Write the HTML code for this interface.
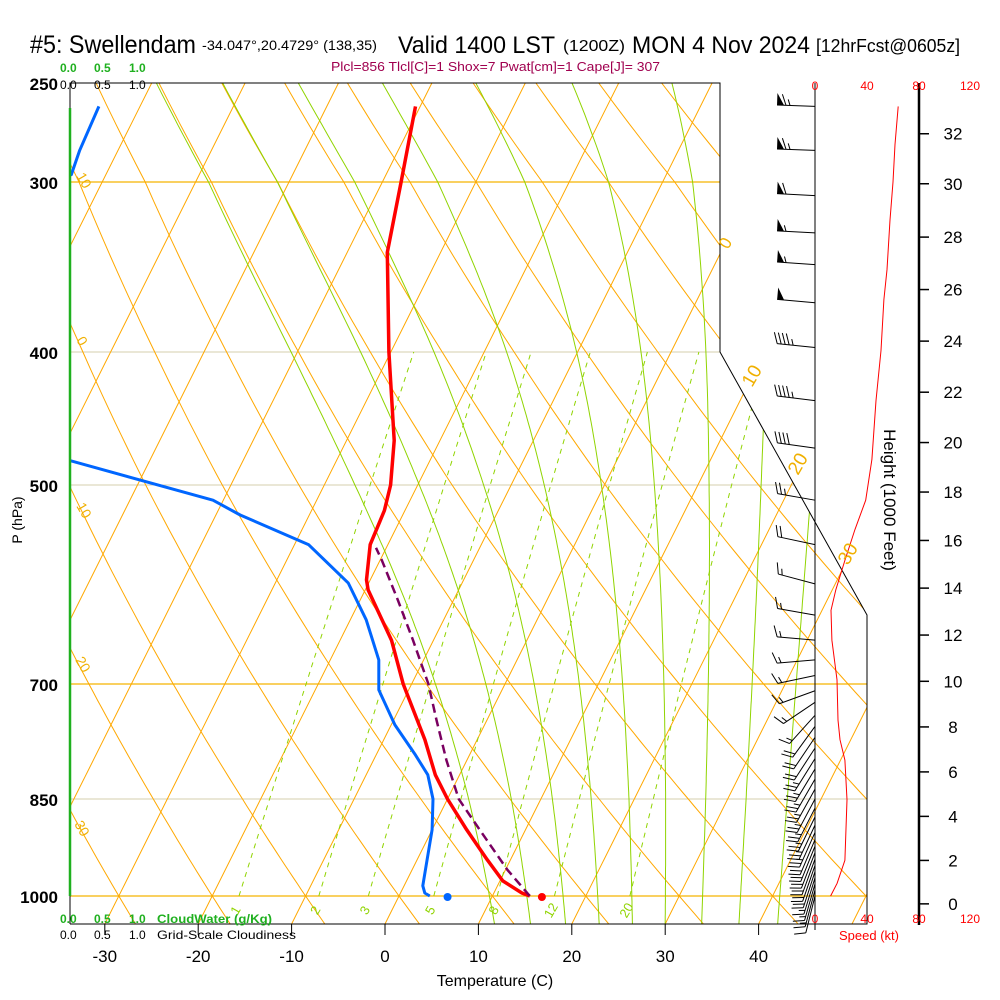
<!DOCTYPE html>
<html><head><meta charset="utf-8">
<style>
html,body{margin:0;padding:0;background:#fff;}
svg{display:block;font-family:"Liberation Sans",Arial,sans-serif;}
</style></head>
<body>
<svg id="chart" width="1000" height="1000" viewBox="0 0 1000 1000" xmlns="http://www.w3.org/2000/svg">
<rect x="0" y="0" width="1000" height="1000" fill="#fff"/>
<defs>
<clipPath id="plotclip"><polygon points="70,83 720,83 720,352 867,615 867,924 70,924"/></clipPath>
</defs>
<g id="grid" clip-path="url(#plotclip)"></g>
<g id="series" clip-path="url(#plotclip)"></g>
<g id="frame">
<polyline points="70,924 70,83 720,83 720,352 867,615 867,924 70,924" fill="none" stroke="#000" stroke-width="1"/>
<line x1="70" y1="108" x2="70" y2="896" stroke="#1fb01f" stroke-width="2.5"/>
<line x1="815" y1="83" x2="815" y2="930" stroke="#000" stroke-width="1"/>
<line x1="919" y1="83" x2="919" y2="925" stroke="#000" stroke-width="2.5"/>
</g>
<g id="winds"></g>
<g id="labels">
<text x="30" y="53" font-size="25" textLength="166" lengthAdjust="spacingAndGlyphs">#5: Swellendam</text>
<text x="202" y="50" font-size="14" textLength="175" lengthAdjust="spacingAndGlyphs">-34.047°,20.4729° (138,35)</text>
<text x="398" y="53" font-size="24" textLength="157" lengthAdjust="spacingAndGlyphs">Valid 1400 LST</text>
<text x="563" y="51" font-size="16" textLength="62" lengthAdjust="spacingAndGlyphs">(1200Z)</text>
<text x="632" y="53" font-size="24" textLength="178" lengthAdjust="spacingAndGlyphs">MON 4 Nov 2024</text>
<text x="816" y="52" font-size="18" textLength="144" lengthAdjust="spacingAndGlyphs">[12hrFcst@0605z]</text>
<text x="331" y="71" font-size="13" fill="#a0004f" textLength="329" lengthAdjust="spacingAndGlyphs">Plcl=856 Tlcl[C]=1 Shox=7 Pwat[cm]=1 Cape[J]= 307</text>
<g font-size="12" font-weight="bold" fill="#1fb01f"><text x="60" y="72">0.0</text><text x="94" y="72">0.5</text><text x="129" y="72">1.0</text></g>
<g font-size="12" fill="#000"><text x="60" y="89">0.0</text><text x="94" y="89">0.5</text><text x="129" y="89">1.0</text></g>
<g font-size="12" font-weight="bold" fill="#1fb01f"><text x="60" y="923">0.0</text><text x="94" y="923">0.5</text><text x="129" y="923">1.0</text><text x="157" y="923" textLength="115" lengthAdjust="spacingAndGlyphs">CloudWater (g/Kg)</text></g>
<g font-size="12" fill="#000"><text x="60" y="939">0.0</text><text x="94" y="939">0.5</text><text x="129" y="939">1.0</text><text x="157" y="939" textLength="139" lengthAdjust="spacingAndGlyphs">Grid-Scale Cloudiness</text></g>
<text x="495" y="986" font-size="16" text-anchor="middle">Temperature (C)</text>
<text transform="translate(22,520) rotate(-90)" font-size="14" text-anchor="middle">P (hPa)</text>
<text transform="translate(884,500) rotate(90)" font-size="17" text-anchor="middle">Height (1000 Feet)</text>
<g font-size="12" fill="#f00" text-anchor="middle"><text x="815" y="90">0</text><text x="867" y="90">40</text><text x="919" y="90">80</text><text x="970" y="90">120</text></g>
<g font-size="12" fill="#f00" text-anchor="middle"><text x="815" y="923">0</text><text x="867" y="923">40</text><text x="919" y="923">80</text><text x="970" y="923">120</text></g>
<text x="869" y="940" font-size="13" fill="#f00" text-anchor="middle">Speed (kt)</text>
<g font-size="14" fill="#f0b000">
<text transform="translate(76,176) rotate(60)">10</text>
<text transform="translate(76,340) rotate(60)">0</text>
<text transform="translate(76,506) rotate(60)">10</text>
<text transform="translate(75,660) rotate(60)">20</text>
<text transform="translate(74,824) rotate(60)">30</text>
<text transform="translate(728,250) rotate(-60)" font-size="17">0</text>
<text transform="translate(752,388) rotate(-60)" font-size="19">10</text>
<text transform="translate(798,476) rotate(-60)" font-size="19">20</text>
<text transform="translate(848,566) rotate(-60)" font-size="19">30</text>
</g>
</g>
<g id="axes"></g>
</svg>
<script>
// ---- data ----
const pressureTicks = [250, 300, 400, 500, 700, 850, 1000];
const tempTicks = [-30, -20, -10, 0, 10, 20, 30, 40];
const heightTicks = [0, 2, 4, 6, 8, 10, 12, 14, 16, 18, 20, 22, 24, 26, 28, 30, 32];
const mixRatios = [1, 2, 3, 5, 8, 12, 20];
const moistTopT = [-69.5, -62.4, -54.3, -45.3, -35.3, -25, -14.3, -5, 3];
const tempP = [261, 300, 338, 400, 464, 500, 522, 553, 587, 597, 650, 700, 769, 816, 850, 895, 941, 975, 995, 1000];
const tempT = [-40.5, -38.0, -35.7, -30.2, -24.9, -22.9, -22.2, -21.9, -20.4, -19.7, -14.5, -10.9, -5.6, -2.6, 0.0, 3.7, 7.5, 10.3, 13.0, 14.0];
const dewP = [261, 283, 296, 310, 470, 480, 513, 526, 553, 590, 628, 672, 707, 750, 789, 816, 850, 895, 941, 983, 995, 1000];
const dewT = [-74.4, -74.1, -73.7, -85, -70, -58.5, -41.1, -37.4, -28.5, -22.2, -18.3, -14.8, -13.2, -9.6, -5.8, -3.4, -1.55, 0.0, 1.07, 2.0, 2.6, 3.3];
const parcelP = [1000, 957, 895, 850, 796, 744, 700, 650, 607, 568, 556];
const parcelT = [14, 10.2, 5.1, 1.2, -2.2, -5.4, -8.2, -12.2, -16.0, -19.8, -21.1];
const sfcTemp = 15.3;
const sfcDew = 5.2;
const windP = [261, 280, 300, 320, 348, 366, 399, 434, 479, 513, 539, 568, 597, 618, 650, 695, 744, 769, 796, 851, 942, 979, 1000];
const windSpeed = [64, 61.5, 60, 57.7, 55.4, 53, 50.8, 46.9, 43.8, 39, 30.8, 23, 16, 12.3, 13, 16.9, 17.7, 19.2, 23, 24.6, 23, 17, 12];
const barbP = [261,283,307,327,345,368,397,434,470,513,553,591,623,650,672,690,708,722,738,752,766,780,794,808,822,836,850,863,876,888,899,910,920,930,940,950,960,970,980,990,1000];
const barbSpeed = [65,65,60,55,55,50,45,45,42,25,22,17,14,13,14,15,15,16,17,18,20,22,23,23,24,24,24,24,23,23,23,22,22,21,20,19,18,17,16,14,12];
const barbDir = [272,272,273,273,274,275,276,277,278,280,282,285,280,275,265,258,250,236,222,216,214,213,212,211,210,209,208,207,206,205,204,203,202,201,200,199,198,197,196,195,194];

// ---- axis functions ----
const NS = 'http://www.w3.org/2000/svg';
const Y_CAL = [83, 182, 352, 485, 684, 799, 896];
function yP(p) {
  const lp = Math.log(p);
  let i = 0;
  if (p <= pressureTicks[0]) i = 0;
  else if (p >= pressureTicks[pressureTicks.length - 1]) i = pressureTicks.length - 2;
  else { while (p > pressureTicks[i + 1]) i++; }
  const l0 = Math.log(pressureTicks[i]), l1 = Math.log(pressureTicks[i + 1]);
  return Y_CAL[i] + (lp - l0) / (l1 - l0) * (Y_CAL[i + 1] - Y_CAL[i]);
}
function xT(T, p) { return 385 + 9.34 * T + 0.5 * (924 - yP(p)); }
function xTy(T, y) { return 385 + 9.34 * T + 0.5 * (924 - y); }
function xSpeed(s) { return 815 + 1.3 * s; }
function pFromHeight(hkft) { return 1013.25 * Math.pow(1 - 6.8756e-6 * hkft * 1000, 5.2559); }
function mk(tag, attrs, parent) {
  const el = document.createElementNS(NS, tag);
  for (const k in attrs) el.setAttribute(k, attrs[k]);
  parent.appendChild(el);
  return el;
}
function pathFrom(ps, ts) {
  return ps.map((p, i) => (i ? 'L' : 'M') + xT(ts[i], p).toFixed(1) + ',' + yP(p).toFixed(1)).join(' ');
}
const grid = document.getElementById('grid');
const series = document.getElementById('series');
const axes = document.getElementById('axes');
const winds = document.getElementById('winds');

// isobars
pressureTicks.forEach(p => {
  const bright = (p === 300 || p === 700 || p === 1000);
  const el = mk('line', {x1: 70, x2: 870, y1: yP(p), y2: yP(p), stroke: bright ? '#f5b400' : '#d6cfae', 'stroke-width': bright ? 1.3 : 1}, grid);
  
  
});
// isotherms
for (let T = -120; T <= 50; T += 10) {
  const el = mk('line', {x1: xTy(T, 924), y1: 924, x2: xTy(T, 83), y2: 83, stroke: '#ffa800', 'stroke-width': 1}, grid);
  
  
}
// dry adiabats
for (let th = -40; th <= 200; th += 10) {
  let d = '';
  for (let p = 1100; p >= 240; p -= 10) {
    const T = (th + 273.15) * Math.pow(p / 1000, 0.286) - 273.15;
    d += (d ? 'L' : 'M') + xT(T, p).toFixed(1) + ',' + yP(p).toFixed(1);
  }
  const el = mk('path', {d: d, fill: 'none', stroke: '#ffa800', 'stroke-width': 1}, grid);
  
  
}
// moist adiabats (integrated downward from their 250 hPa temperature)
function rsat(T, p) { const es = 6.112 * Math.exp(17.67 * T / (T + 243.5)); return 0.622 * es / (p - es); }
function dTdp(T, p) {
  const Tk = T + 273.15, r = rsat(T, p), Rd = 287, cp = 1005, Lv = 2.5e6;
  return (Rd * Tk + Lv * r) / (p * (cp + Lv * Lv * r * 0.622 / (Rd * Tk * Tk)));
}
moistTopT.forEach(Ttop => {
  let T = Ttop, p = 250, pts = [];
  while (p <= 1100) {
    pts.push(xT(T, p).toFixed(1) + ',' + yP(p).toFixed(1));
    T += dTdp(T, p) * 5; p += 5;
  }
  const el = mk('polyline', {points: pts.join(' '), fill: 'none', stroke: '#90d400', 'stroke-width': 1}, grid);
  
  
});
// mixing ratio lines
function tdFromW(w, p) { const e = w * p / (622 + w); const l = Math.log(e / 6.112); return 243.5 * l / (17.67 - l); }
mixRatios.forEach(w => {
  let d = '';
  for (let p = 1000; p >= 400; p -= 10) d += (d ? 'L' : 'M') + xT(tdFromW(w, p), p).toFixed(1) + ',' + yP(p).toFixed(1);
  const el = mk('path', {d: d, fill: 'none', stroke: '#90d400', 'stroke-width': 1, 'stroke-dasharray': '5,5'}, grid);
  
  
  const lx = xT(tdFromW(w, 1000), 1000) - 4;
  const t = mk('text', {x: lx, y: 915, 'font-size': 13, fill: '#90d400', 'text-anchor': 'middle', transform: 'rotate(-60 ' + lx + ' 910)'}, axes);
  
  
  t.textContent = w;
});

// series
const tLine = mk('path', {d: pathFrom(tempP, tempT), fill: 'none', stroke: '#ff0000', 'stroke-width': 3.5, 'stroke-linejoin': 'round'}, series);


const dLine = mk('path', {d: pathFrom(dewP, dewT), fill: 'none', stroke: '#0066ff', 'stroke-width': 3, 'stroke-linejoin': 'round'}, series);


const pLine = mk('path', {d: pathFrom(parcelP, parcelT), fill: 'none', stroke: '#7a0060', 'stroke-width': 2.5, 'stroke-dasharray': '9,5'}, series);


const sT = mk('circle', {cx: xT(sfcTemp, 1000), cy: yP(1000) + 1, r: 4, fill: '#ff0000'}, series);


const sD = mk('circle', {cx: xT(sfcDew, 1000), cy: yP(1000) + 1, r: 4, fill: '#0066ff'}, series);



// wind speed profile
const ws = mk('polyline', {points: windP.map((p, i) => xSpeed(windSpeed[i]).toFixed(1) + ',' + yP(p).toFixed(1)).join(' '), fill: 'none', stroke: '#ff0000', 'stroke-width': 1}, winds);



// wind barbs
barbP.forEach((p, i) => {
  const y0 = yP(p), L = 38, a = barbDir[i] * Math.PI / 180;
  const ux = Math.sin(a), uy = -Math.cos(a);
  const px = -uy, py = ux;
  const ex = 815 + L * ux, ey = y0 + L * uy;
  const g = mk('g', {}, winds);
  
  
  mk('line', {x1: 815, y1: y0, x2: ex, y2: ey, stroke: '#000', 'stroke-width': 1}, g);
  let s = Math.round(barbSpeed[i] / 5) * 5, pos = 0;
  while (s >= 50) {
    const bx = ex - ux * pos, by = ey - uy * pos;
    mk('polygon', {points: bx + ',' + by + ' ' + (bx + px * 12) + ',' + (by + py * 12) + ' ' + (bx - ux * 7) + ',' + (by - uy * 7), fill: '#000'}, g);
    pos += 9; s -= 50;
  }
  while (s >= 10) {
    const bx = ex - ux * pos, by = ey - uy * pos;
    mk('line', {x1: bx, y1: by, x2: bx + px * 11 + ux * 4, y2: by + py * 11 + uy * 4, stroke: '#000', 'stroke-width': 1}, g);
    pos += 4; s -= 10;
  }
  if (s >= 5) {
    if (pos === 0) pos = 4;
    const bx = ex - ux * pos, by = ey - uy * pos;
    mk('line', {x1: bx, y1: by, x2: bx + px * 6 + ux * 2, y2: by + py * 6 + uy * 2, stroke: '#000', 'stroke-width': 1}, g);
  }
});

// pressure labels
pressureTicks.forEach(p => {
  const t = mk('text', {x: 58, y: yP(p) + 7, 'font-size': 17, 'font-weight': 'bold', 'text-anchor': 'end'}, axes);
  
  
  t.textContent = p;
});
// temperature ticks
tempTicks.forEach(T => {
  const x = xTy(T, 924);
  const tk = mk('line', {x1: x, y1: 924, x2: x, y2: 935, stroke: '#000', 'stroke-width': 1}, axes);
  
  
  const t = mk('text', {x: x, y: 962, 'font-size': 17, 'text-anchor': 'middle'}, axes);
  
  
  t.textContent = T;
});
// height ticks
heightTicks.forEach(h => {
  const y = yP(pFromHeight(h));
  const tk = mk('line', {x1: 919, y1: y, x2: 929, y2: y, stroke: '#000', 'stroke-width': 1.5}, axes);
  
  
  const t = mk('text', {x: 953, y: y + 6, 'font-size': 17, 'text-anchor': 'middle'}, axes);
  
  
  t.textContent = h;
});
</script>
</body></html>
